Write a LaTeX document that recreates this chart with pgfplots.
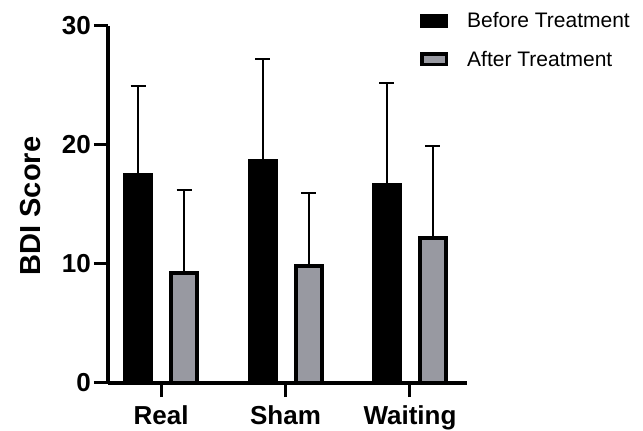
\documentclass[border=0pt]{standalone}
\usepackage{fontspec}
\setmainfont{Liberation Sans}
\usepackage{pgfplots}
\pgfplotsset{compat=1.18}
\definecolor{aftergrey}{RGB}{152,153,161}
\begin{document}
\begin{tikzpicture}
\useasboundingbox (0pt,0pt) rectangle (643pt,431pt);
\begin{axis}[
  at={(108pt,48pt)}, anchor=south west,
  scale only axis, width=359pt, height=357.3pt,
  xmin=-0.426, xmax=2.458, ymin=0, ymax=30,
  clip=false,
  ybar=20pt, bar width=26pt,
  axis x line=bottom, axis y line=left,
  axis line style={-, line width=3.5pt, black},
  xtick={0,1,2}, xticklabels={Real,Sham,Waiting},
  ytick={0,10,20,30},
  tick align=outside, major tick length=14pt,
  tick style={line width=3pt, black},
  /pgf/number format/assume math mode=true,
  ticklabel style={font=\bfseries\fontsize{26}{30}\selectfont},
  yticklabel style={inner sep=3pt},
  xticklabel style={inner sep=8pt},
  every axis y label/.style={at={(rel axis cs:-0.217,0.495)}, rotate=90, anchor=center, font=\bfseries\fontsize{29}{33}\selectfont},
  ylabel={BDI Score},
  legend cell align=left,
  legend style={at={(rel axis cs:0.869,1.038)}, anchor=north west, draw=none, fill=none, inner sep=0pt, row sep=22pt,
    font=\fontsize{21}{25}\selectfont, nodes={inner sep=0pt},
    /tikz/every odd column/.append style={column sep=19pt}},
]
\addplot[fill=black, draw=black, line width=4pt,
  legend image code/.code={\draw[fill=black,draw=black,line width=3.5pt] (0pt,-5.25pt) rectangle (24.5pt,5.25pt);},
  error bars/.cd, y dir=plus, y explicit,
  error bar style={line width=2pt, black},
  error mark options={line width=2pt, mark size=7.5pt, black, rotate=90}]
  coordinates {(0,17.5) +- (0,7.4) (1,18.6) +- (0,8.6) (2,16.6) +- (0,8.6)};
\addlegendentry{Before Treatment}
\addplot[fill=aftergrey, draw=black, line width=4pt,
  legend image code/.code={\draw[fill=aftergrey,draw=black,line width=3.5pt] (0pt,-5.25pt) rectangle (24.5pt,5.25pt);},
  error bars/.cd, y dir=plus, y explicit,
  error bar style={line width=2pt, black},
  error mark options={line width=2pt, mark size=7.5pt, black, rotate=90}]
  coordinates {(0,9.2) +- (0,7.0) (1,9.8) +- (0,6.15) (2,12.2) +- (0,7.7)};
\addlegendentry{After Treatment}
\end{axis}
\end{tikzpicture}
\end{document}
